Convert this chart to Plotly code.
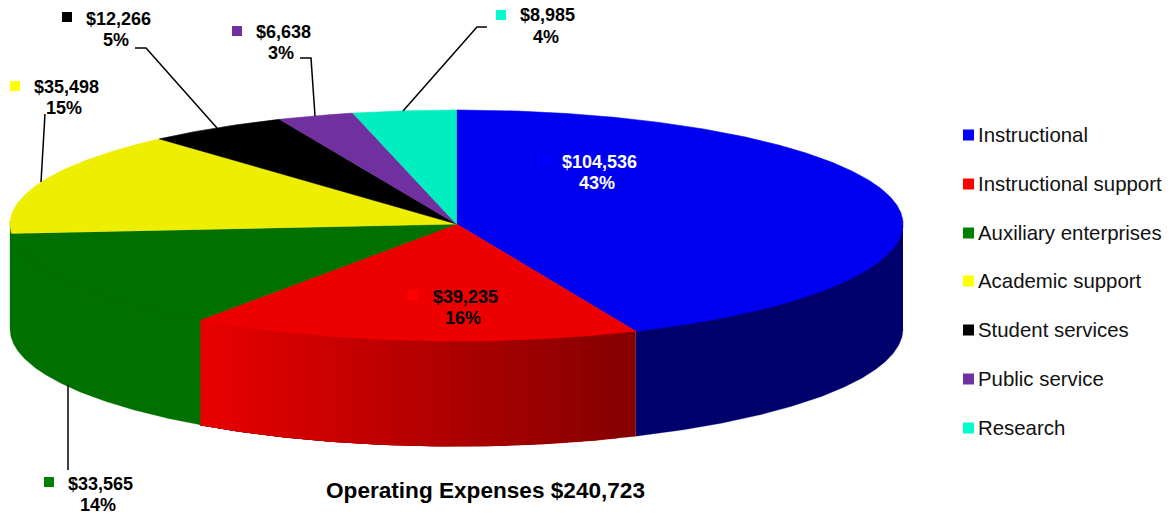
import math
import plotly.graph_objects as go

# ---- data ----
categories = ["Instructional", "Instructional support", "Auxiliary enterprises",
              "Academic support", "Student services", "Public service", "Research"]
values = [104536, 39235, 33565, 35498, 12266, 6638, 8985]
total_label = "Operating Expenses $240,723"

# ---- style ----
top_colors = ["#0000f0", "#ee0000", "#007000", "#eeee00", "#000000", "#70309f", "#00eec0"]
key_colors = ["#0000ff", "#ff0000", "#008000", "#ffff00", "#000000", "#7030a0", "#00ffcc"]
CX, CY, RX, RY_BACK, RY_FRONT, DEPTH = 456.5, 224, 446.5, 114, 117, 105
FONT = "Liberation Sans, Arial, sans-serif"

# label layout: key marker, value text centre, percent text centre
key_pos = [(545, 160), (413, 295), (49, 482), (15, 86), (67, 17), (237, 31), (501, 15)]
val_pos = [(599, 162), (465, 297), (100, 484), (66, 87), (118, 19), (283, 32), (547, 15)]
pct_pos = [(597, 183), (463, 318), (98, 505), (64, 108), (116, 40), (281, 53), (546, 37)]
label_colors = ["white", "black", "black", "black", "black", "black", "black"]
leaders = [
    [(68, 385), (68, 470)],
    [(45, 114), (41, 182)],
    [(135, 48), (146, 48), (217, 128)],
    [(300, 58), (311, 58), (315, 116)],
    [(487, 27), (477, 27), (403, 111)],
]
legend_y = [135, 184, 233, 281, 330, 379, 428]


def pt(theta, drop=0.0):
    s, c = math.sin(theta), math.cos(theta)
    ry = RY_FRONT if c < 0 else RY_BACK
    return CX + RX * s, CY - ry * c + drop


def arc(a0, a1, drop=0.0, step=0.005):
    n = max(2, int(abs(a1 - a0) / step))
    return [pt(a0 + (a1 - a0) * i / n, drop) for i in range(n + 1)]


def poly(fig, pts, color, lw=0.6):
    fig.add_trace(go.Scatter(x=[p[0] for p in pts], y=[p[1] for p in pts], mode="lines",
                             fill="toself", fillcolor=color,
                             line=dict(color=color, width=lw), hoverinfo="skip"))


def wall_color(i, frac):
    if i == 0:
        return "#00006c"
    if i == 1:
        r = round(232 + (132 - 232) * frac)
        return f"rgb({r},0,0)"
    return "#007000"


fig = go.Figure()
total = sum(values)
edges = [0.0]
for v in values:
    edges.append(edges[-1] + v / total * 2 * math.pi)

# side walls (only the front half of the disc shows); each band runs on
# under its neighbour so no white hairlines show through
for i in range(3):
    a0 = max(edges[i], math.pi / 2)
    a1 = edges[i + 1] if i < 2 else 1.5 * math.pi
    strips = 1 if i != 1 else 24
    x0, x1 = pt(a0)[0], pt(a1)[0]
    for k in range(strips):
        s0 = a0 + (a1 - a0) * k / strips
        s_mid = a0 + (a1 - a0) * (k + 0.5) / strips
        frac = 1 - abs(pt(s_mid)[0] - x0) / abs(x1 - x0)
        poly(fig, arc(s0, a1, -3) + arc(a1, s0, DEPTH), wall_color(i, frac), lw=0.3)

# top faces
for i in range(len(values)):
    poly(fig, [(CX, CY)] + arc(edges[i], edges[i + 1]) + [(CX, CY)], top_colors[i])

# leader lines
for seg in leaders:
    fig.add_trace(go.Scatter(x=[p[0] for p in seg], y=[p[1] for p in seg], mode="lines",
                             line=dict(color="black", width=1.5), hoverinfo="skip"))

# label keys and legend keys
fig.add_trace(go.Scatter(x=[p[0] for p in key_pos], y=[p[1] for p in key_pos], mode="markers",
                         marker=dict(symbol="square", size=10, color=key_colors), hoverinfo="skip"))
fig.add_trace(go.Scatter(x=[968.5] * len(categories), y=legend_y, mode="markers",
                         marker=dict(symbol="square", size=11, color=key_colors), hoverinfo="skip"))

ann = []
def text(x, y, s, size, color="black", bold=False, anchor="center"):
    ann.append(dict(x=x, y=y, xref="x", yref="y", text=f"<b>{s}</b>" if bold else s,
                    showarrow=False, xanchor=anchor, yanchor="middle",
                    font=dict(family=FONT, size=size, color=color)))

for i, v in enumerate(values):
    text(*val_pos[i], f"${v:,}", 18, label_colors[i], True)
    text(*pct_pos[i], f"{round(v / total * 100)}%", 18, label_colors[i], True)
    text(976, legend_y[i], categories[i], 20.4, "#111111", False, "left")
text(485.5, 490, total_label, 22.6, "black", True)

fig.update_layout(
    width=1173, height=515, margin=dict(l=0, r=0, t=0, b=0),
    paper_bgcolor="white", plot_bgcolor="white", showlegend=False,
    xaxis=dict(range=[0, 1173], visible=False, fixedrange=True),
    yaxis=dict(range=[515, 0], visible=False, fixedrange=True),
    annotations=ann,
)
fig.write_html("out.html", config={"displayModeBar": False},
               post_script="document.body.style.margin='0';document.documentElement.style.overflow='hidden';")
